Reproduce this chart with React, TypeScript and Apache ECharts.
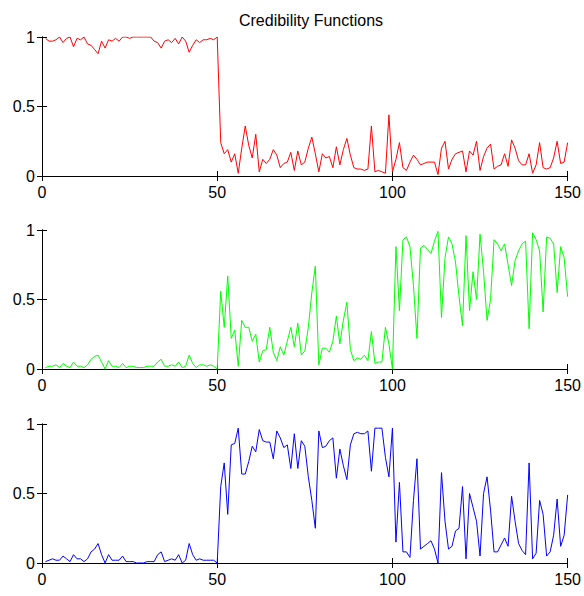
import React, { useEffect, useRef } from "react";
import * as echarts from "echarts";

const titleText = "Credibility Functions";
const xTicks = [0, 50, 100, 150];

const red = [
  0.99, 0.97, 0.97, 0.98, 1.0, 0.96, 0.99, 1.0, 0.93, 0.99,
  0.98, 1.0, 0.95, 0.94, 0.91, 0.88, 0.97, 0.92, 0.98, 0.97,
  0.99, 0.97, 1.0, 1.0, 0.99, 1.0, 1.0, 1.0, 1.0, 1.0,
  1.0, 0.97, 0.96, 0.92, 0.97, 0.98, 0.96, 0.99, 0.95, 1.0,
  0.97, 0.89, 0.94, 0.98, 0.96, 0.98, 0.98, 0.99, 0.98, 1.0,
  0.24, 0.16, 0.19, 0.1, 0.16, 0.02, 0.2, 0.36, 0.22, 0.13,
  0.3, 0.03, 0.12, 0.09, 0.12, 0.19, 0.15, 0.06, 0.09, 0.1,
  0.17, 0.04, 0.18, 0.08, 0.1, 0.2, 0.28, 0.16, 0.03, 0.16,
  0.13, 0.14, 0.06, 0.21, 0.08, 0.19, 0.27, 0.15, 0.06, 0.05,
  0.05, 0.04, 0.05, 0.36, 0.03, 0.04, 0.03, 0.02, 0.44, 0.03,
  0.12, 0.24, 0.06, 0.04, 0.1, 0.15, 0.12, 0.08, 0.09, 0.1,
  0.1, 0.1, 0.01, 0.2, 0.25, 0.05, 0.12, 0.16, 0.17, 0.18,
  0.03, 0.18, 0.15, 0.25, 0.04, 0.14, 0.2, 0.23, 0.05, 0.07,
  0.08, 0.16, 0.07, 0.26, 0.2, 0.11, 0.08, 0.08, 0.16, 0.02,
  0.08, 0.24, 0.06, 0.05, 0.06, 0.13, 0.25, 0.09, 0.1, 0.24,
];

const green = [
  0.01, 0.02, 0.02, 0.03, 0.01, 0.04, 0.02, 0.01, 0.05, 0.02,
  0.02, 0.01, 0.03, 0.07, 0.09, 0.1, 0.05, 0.0, 0.06, 0.02,
  0.02, 0.01, 0.04, 0.01, 0.02, 0.02, 0.01, 0.01, 0.01, 0.02,
  0.02, 0.02, 0.05, 0.07, 0.02, 0.02, 0.03, 0.02, 0.05, 0.01,
  0.02, 0.1, 0.04, 0.01, 0.03, 0.03, 0.02, 0.03, 0.02, 0.0,
  0.56, 0.3, 0.67, 0.22, 0.28, 0.02, 0.35, 0.3, 0.3, 0.2,
  0.25, 0.05, 0.13, 0.14, 0.3, 0.12, 0.06, 0.16, 0.1, 0.2,
  0.3, 0.16, 0.33, 0.1, 0.13, 0.3, 0.55, 0.74, 0.03, 0.15,
  0.15, 0.12, 0.2, 0.38, 0.18, 0.35, 0.48, 0.14, 0.06, 0.08,
  0.07, 0.1, 0.06, 0.27, 0.04, 0.05, 0.05, 0.3, 0.18, 0.0,
  0.88, 0.42, 0.93, 0.95, 0.88, 0.6, 0.22, 0.87, 0.89, 0.86,
  0.83, 0.92, 0.99, 0.37, 0.8, 0.95, 0.9, 0.77, 0.52, 0.31,
  0.96, 0.42, 0.7, 0.5, 0.97, 0.7, 0.35, 0.5, 0.93, 0.9,
  0.85, 0.9, 0.75, 0.6, 0.78, 0.85, 0.9, 0.92, 0.29, 0.98,
  0.93, 0.85, 0.41, 0.95, 0.94, 0.9, 0.55, 0.88, 0.8, 0.52,
];

const blue = [
  0.01, 0.02, 0.03, 0.02, 0.02, 0.05, 0.03, 0.01, 0.06, 0.03,
  0.03, 0.01, 0.03, 0.08, 0.1, 0.14, 0.06, 0.0, 0.06, 0.02,
  0.02, 0.02, 0.05, 0.01, 0.01, 0.01, 0.0, 0.0, 0.0, 0.01,
  0.01, 0.01, 0.06, 0.08, 0.01, 0.02, 0.03, 0.02, 0.06, 0.0,
  0.02, 0.14, 0.06, 0.02, 0.03, 0.02, 0.02, 0.02, 0.02, 0.0,
  0.55, 0.72, 0.35, 0.85, 0.86, 0.97, 0.64, 0.64, 0.73, 0.84,
  0.8, 0.96, 0.88, 0.87, 0.87, 0.75, 0.95, 0.9, 0.83, 0.85,
  0.68, 0.93, 0.68, 0.88, 0.84, 0.62, 0.45, 0.25, 0.95, 0.83,
  0.84, 0.88, 0.9, 0.61, 0.82, 0.7, 0.6, 0.85, 0.93, 0.94,
  0.93, 0.93, 0.95, 0.66, 0.97, 0.97, 0.97, 0.76, 0.62, 0.97,
  0.15, 0.58, 0.08, 0.08, 0.04, 0.45, 0.75, 0.1, 0.12, 0.14,
  0.16, 0.1, 0.0, 0.65, 0.3, 0.1, 0.12, 0.23, 0.25, 0.55,
  0.03, 0.5, 0.4, 0.3, 0.05, 0.5, 0.62, 0.38, 0.08, 0.08,
  0.13, 0.18, 0.12, 0.48, 0.3, 0.14, 0.09, 0.06, 0.72, 0.03,
  0.07, 0.45, 0.35, 0.05, 0.08, 0.2, 0.46, 0.12, 0.2, 0.49,
];

const seriesList = [
  { name: "class1", values: red, color: "#ff0000" },
  { name: "class2", values: green, color: "#00ff00" },
  { name: "class3", values: blue, color: "#0000ff" },
];

const gridTops = [37, 230, 424];
const gridHeight = 139;
const FONT = "'Liberation Sans', Arial, sans-serif";

export default function App() {
  const ref = useRef<HTMLDivElement>(null);
  useEffect(() => {
    document.body.style.margin = "0";
    const chart = echarts.init(ref.current!, null, { renderer: "svg" });
    const grids: any[] = [];
    const xAxes: any[] = [];
    const yAxes: any[] = [];
    const series: any[] = [];
    const axisLine = { lineStyle: { color: "#000", width: 1 } };
    seriesList.forEach((s, i) => {
      grids.push({ left: 42, width: 528, top: gridTops[i], height: gridHeight });
      const xBase = {
        type: "value",
        gridIndex: i,
        min: xTicks[0],
        max: xTicks[xTicks.length - 1],
        interval: 50,
        splitLine: { show: false },
        axisLine,
        axisTick: { inside: true, length: 5, lineStyle: { color: "#000" } },
      };
      xAxes.push({
        ...xBase,
        position: "bottom",
        axisLabel: { color: "#000", fontSize: 16, fontFamily: FONT, margin: 8 },
      });
      xAxes.push({ ...xBase, position: "top", axisLabel: { show: false } });
      const yBase = {
        type: "value",
        gridIndex: i,
        min: 0,
        max: 1,
        interval: 0.5,
        splitLine: { show: false },
        axisLine,
        axisTick: { inside: true, length: 5, lineStyle: { color: "#000" } },
      };
      yAxes.push({
        ...yBase,
        position: "left",
        axisLabel: { color: "#000", fontSize: 16, fontFamily: FONT, margin: 7 },
      });
      yAxes.push({ ...yBase, position: "right", axisLabel: { show: false } });
      series.push({
        type: "line",
        name: s.name,
        xAxisIndex: i * 2,
        yAxisIndex: i * 2,
        data: s.values.map((v, k) => [k + 1, v]),
        showSymbol: false,
        symbol: "none",
        lineStyle: { color: s.color, width: 1 },
        itemStyle: { color: s.color },
      });
    });
    chart.setOption({
      animation: false,
      backgroundColor: "#fff",
      title: {
        text: titleText,
        left: 306,
        top: 7,
        textAlign: "center",
        textStyle: { fontSize: 16, fontWeight: "normal", color: "#000", fontFamily: FONT },
      },
      grid: grids,
      xAxis: xAxes,
      yAxis: yAxes,
      series,
    });
    return () => chart.dispose();
  }, []);
  return <div ref={ref} style={{ width: 584, height: 596 }} />;
}
